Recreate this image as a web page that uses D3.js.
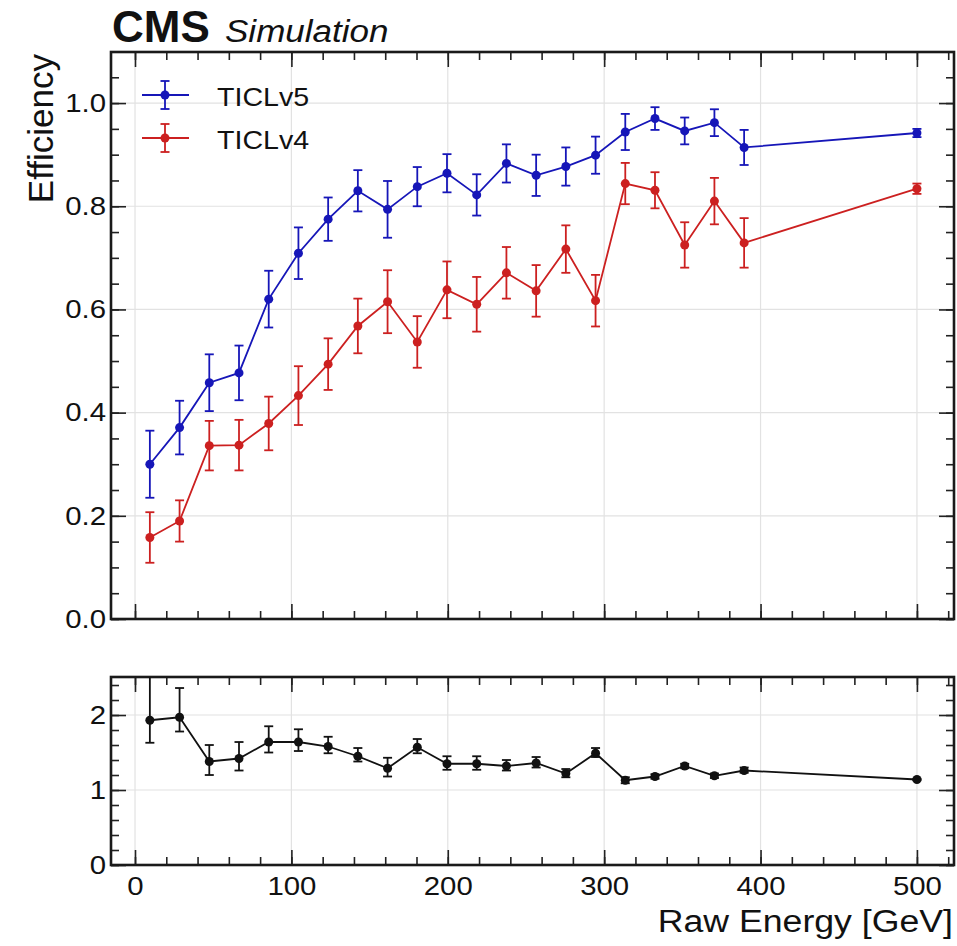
<!DOCTYPE html>
<html>
<head>
<meta charset="utf-8">
<script src="https://cdn.jsdelivr.net/npm/d3@7"></script>
<style>
  body { margin: 0; background: #fff; }
  text { font-family: "Liberation Sans", Arial, Helvetica, sans-serif; fill: #111; }
</style>
</head>
<body>
<svg id="chart" width="957" height="946"></svg>
<script>
// bin centres [GeV]
const energy = [9.5, 28.5, 47.5, 66.5, 85.5, 104.5, 123.5, 142.5, 161.5, 180.5, 199.5,
  218.5, 237.5, 256.5, 275.5, 294.5, 313.5, 332.5, 351.5, 370.5, 389.5, 500];

const effV5 = [0.300, 0.371, 0.458, 0.477, 0.620, 0.709, 0.775, 0.830, 0.794, 0.838, 0.864,
  0.822, 0.883, 0.860, 0.877, 0.899, 0.944, 0.970, 0.946, 0.962, 0.914, 0.942];
const errV5 = [0.065, 0.052, 0.055, 0.053, 0.055, 0.050, 0.042, 0.040, 0.055, 0.038, 0.037,
  0.040, 0.037, 0.040, 0.037, 0.036, 0.035, 0.022, 0.026, 0.026, 0.034, 0.008];

const effV4 = [0.158, 0.190, 0.336, 0.337, 0.379, 0.433, 0.494, 0.568, 0.615, 0.537, 0.638,
  0.610, 0.671, 0.636, 0.717, 0.617, 0.844, 0.831, 0.725, 0.810, 0.729, 0.834];
const errV4 = [0.049, 0.040, 0.048, 0.049, 0.052, 0.057, 0.050, 0.053, 0.061, 0.050, 0.055,
  0.053, 0.050, 0.050, 0.046, 0.050, 0.040, 0.035, 0.044, 0.045, 0.048, 0.010];

// TICLv5 / TICLv4
const ratio = [1.93, 1.97, 1.38, 1.42, 1.64, 1.64, 1.58, 1.45, 1.29, 1.57, 1.35,
  1.35, 1.32, 1.36, 1.22, 1.49, 1.13, 1.18, 1.32, 1.19, 1.26, 1.14];
const ratioErrLo = [0.30, 0.19, 0.18, 0.16, 0.14, 0.12, 0.09, 0.07, 0.11, 0.08, 0.08,
  0.08, 0.06, 0.06, 0.05, 0.05, 0.04, 0.03, 0.03, 0.03, 0.03, 0.01];
const ratioErrHi = [0.65, 0.39, 0.22, 0.22, 0.21, 0.17, 0.13, 0.11, 0.14, 0.11, 0.10,
  0.10, 0.08, 0.08, 0.06, 0.07, 0.04, 0.03, 0.03, 0.03, 0.04, 0.01];

const xTicks = [0, 100, 200, 300, 400, 500];
const xMinor = d3.range(0, 521, 20);
const effTicks = [0, 0.2, 0.4, 0.6, 0.8, 1.0];
const effMinor = d3.range(0, 1.1001, 0.05);
const ratioTicks = [0, 1, 2];
const ratioMinor = d3.range(0, 2.5001, 0.2);

const series = [
  { name: "TICLv5", color: "#1616b8", y: effV5, err: errV5.map(e => [e, e]) },
  { name: "TICLv4", color: "#cc2020", y: effV4, err: errV4.map(e => [e, e]) }
];

const svg = d3.select("#chart");
const left = 111, right = 954;

const x = d3.scaleLinear().domain([-15.35, 523.7]).range([left, right]);
const yTop = d3.scaleLinear().domain([0, 1.099]).range([619, 52]);
const yBot = d3.scaleLinear().domain([0, 2.507]).range([865, 677]);

const MAJOR = 15, MINOR = 8;
const TICK_FONT = 26;

// the reference lettering is a bit wider than Liberation Sans: widen glyphs
function widen(sel, k) {
  sel.each(function () {
    const w = this.getComputedTextLength();
    if (w > 0) d3.select(this).attr("textLength", w * k).attr("lengthAdjust", "spacingAndGlyphs");
  });
}

function drawPanel(y, yMajor, yMinor, yFmt, showX, id) {
  const [y0, y1] = y.range();
  const g = svg.append("g");

  // grid
  g.append("g").selectAll("line").data(xTicks).join("line")
    .attr("x1", d => x(d)).attr("x2", d => x(d)).attr("y1", y0).attr("y2", y1)
    .attr("stroke", "#e2e2e2").attr("stroke-width", 1.2);
  g.append("g").selectAll("line").data(yMajor).join("line")
    .attr("x1", left).attr("x2", right).attr("y1", d => y(d)).attr("y2", d => y(d))
    .attr("stroke", "#e2e2e2").attr("stroke-width", 1.2);

  // inward ticks on all four sides
  const axes = [
    [d3.axisLeft(y).tickValues(yMajor).tickSize(-MAJOR).tickPadding(5).tickFormat(yFmt), `translate(${left},0)`],
    [d3.axisLeft(y).tickValues(yMinor).tickSize(-MINOR).tickFormat(""), `translate(${left},0)`],
    [d3.axisRight(y).tickValues(yMajor).tickSize(-MAJOR).tickFormat(""), `translate(${right},0)`],
    [d3.axisRight(y).tickValues(yMinor).tickSize(-MINOR).tickFormat(""), `translate(${right},0)`],
    [d3.axisBottom(x).tickValues(xTicks).tickSize(-MAJOR).tickPadding(12).tickFormat(showX ? d3.format("d") : ""), `translate(0,${y0})`],
    [d3.axisBottom(x).tickValues(xMinor).tickSize(-MINOR).tickFormat(""), `translate(0,${y0})`],
    [d3.axisTop(x).tickValues(xTicks).tickSize(-MAJOR).tickFormat(""), `translate(0,${y1})`],
    [d3.axisTop(x).tickValues(xMinor).tickSize(-MINOR).tickFormat(""), `translate(0,${y1})`]
  ];
  axes.forEach(([ax, tr]) => {
    const a = g.append("g").attr("transform", tr).call(ax);
    a.select(".domain").remove();
    a.selectAll("line").attr("stroke", "#222").attr("stroke-width", 1.6);
    const t = a.selectAll("text").attr("font-size", TICK_FONT).attr("fill", "#222");
    widen(t, 1.13);
  });

  g.append("rect")
    .attr("x", left).attr("y", y1).attr("width", right - left).attr("height", y0 - y1)
    .attr("fill", "none").attr("stroke", "#1a1a1a").attr("stroke-width", 2.6);

  svg.append("clipPath").attr("id", id)
    .append("rect").attr("x", left).attr("y", y1).attr("width", right - left).attr("height", y0 - y1);

  return svg.append("g").attr("clip-path", `url(#${id})`);
}

function drawErrorSeries(g, y, vals, errs, color) {
  const pts = vals.map((v, i) => ({ x: energy[i], y: v, lo: v - errs[i][0], hi: v + errs[i][1] }));
  const s = g.append("g");
  s.append("path").datum(pts)
    .attr("d", d3.line().x(d => x(d.x)).y(d => y(d.y)))
    .attr("fill", "none").attr("stroke", color).attr("stroke-width", 1.8);
  s.selectAll(".bar").data(pts).join("line").attr("class", "bar")
    .attr("x1", d => x(d.x)).attr("x2", d => x(d.x))
    .attr("y1", d => y(d.lo)).attr("y2", d => y(d.hi))
    .attr("stroke", color).attr("stroke-width", 1.8);
  ["lo", "hi"].forEach(k => {
    s.selectAll(".cap-" + k).data(pts).join("line").attr("class", "cap-" + k)
      .attr("x1", d => x(d.x) - 4.5).attr("x2", d => x(d.x) + 4.5)
      .attr("y1", d => y(d[k])).attr("y2", d => y(d[k]))
      .attr("stroke", color).attr("stroke-width", 1.8);
  });
  s.selectAll("circle").data(pts).join("circle")
    .attr("cx", d => x(d.x)).attr("cy", d => y(d.y)).attr("r", 4.5)
    .attr("fill", color);
}

const effPanel = drawPanel(yTop, effTicks, effMinor, d3.format(".1f"), false, "clipTop");
series.forEach(s => drawErrorSeries(effPanel, yTop, s.y, s.err, s.color));

const ratioPanel = drawPanel(yBot, ratioTicks, ratioMinor, d3.format("d"), true, "clipBot");
drawErrorSeries(ratioPanel, yBot, ratio, ratio.map((v, i) => [ratioErrLo[i], ratioErrHi[i]]), "#111");

// legend
series.forEach((s, i) => {
  const cy = 95 + i * 43;
  const lg = svg.append("g").attr("transform", `translate(165,${cy})`);
  lg.append("line").attr("x1", -23).attr("x2", 24).attr("stroke", s.color).attr("stroke-width", 1.8);
  lg.append("line").attr("y1", -14).attr("y2", 14).attr("stroke", s.color).attr("stroke-width", 1.8);
  [-14, 14].forEach(c => lg.append("line").attr("x1", -4.5).attr("x2", 4.5).attr("y1", c).attr("y2", c)
    .attr("stroke", s.color).attr("stroke-width", 1.8));
  lg.append("circle").attr("r", 4.5).attr("fill", s.color);
  const t = lg.append("text").attr("x", 52).attr("y", 11).attr("font-size", 26).attr("fill", "#222").text(s.name);
  widen(t, 1.1);
});

// labels
const xLabel = svg.append("text").attr("x", 953).attr("y", 932).attr("text-anchor", "end")
  .attr("font-size", 31).attr("fill", "#222").text("Raw Energy [GeV]");
widen(xLabel, 1.15);
svg.append("text").attr("transform", "translate(53,54) rotate(-90)").attr("text-anchor", "end")
  .attr("font-size", 35).attr("fill", "#222").text("Efficiency");

svg.append("text").attr("x", 112).attr("y", 42)
  .attr("font-size", 44).attr("font-weight", "bold").text("CMS");
const sim = svg.append("text").attr("x", 225).attr("y", 42)
  .attr("font-size", 31).attr("font-style", "italic").attr("fill", "#222").text("Simulation");
widen(sim, 1.13);
</script>
</body>
</html>
